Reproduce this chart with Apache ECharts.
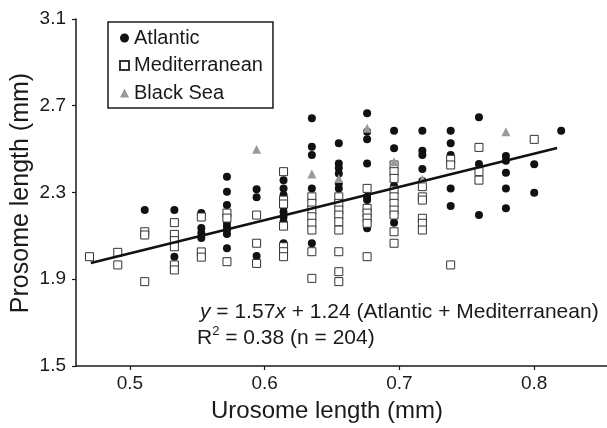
<!DOCTYPE html>
<html><head><meta charset="utf-8">
<script src="https://cdn.jsdelivr.net/npm/echarts@6/dist/echarts.min.js"></script>
<style>html,body{margin:0;padding:0;background:#fff}#c{width:607px;height:428px}</style>
</head><body><div id="c"></div>
<script>
const xTicks = [0.5, 0.6, 0.7, 0.8];
const yTicks = [1.5, 1.9, 2.3, 2.7, 3.1];

const atlantic = [
  [0.511,2.219],
  [0.533,2.219],[0.533,2.004],
  [0.553,2.205],[0.553,2.136],[0.553,2.113],[0.553,2.090],
  [0.572,2.373],[0.572,2.304],[0.572,2.242],[0.572,2.164],[0.572,2.145],[0.572,2.127],[0.572,2.109],[0.572,2.043],
  [0.594,2.315],[0.594,2.278],[0.594,2.007],
  [0.614,2.357],[0.614,2.319],[0.614,2.288],[0.614,2.234],[0.614,2.210],[0.614,2.187],[0.614,2.164],[0.614,2.066],
  [0.635,2.642],[0.635,2.511],[0.635,2.473],[0.635,2.319],[0.635,2.066],
  [0.655,2.527],[0.655,2.434],[0.655,2.413],[0.655,2.388],[0.655,2.342],[0.655,2.319],
  [0.676,2.665],[0.676,2.580],[0.676,2.545],[0.676,2.434],[0.676,2.280],[0.676,2.265],[0.676,2.135],
  [0.696,2.585],[0.696,2.504],[0.696,2.330],[0.696,2.161],
  [0.717,2.585],[0.717,2.493],[0.717,2.473],[0.717,2.408],[0.717,2.353],
  [0.738,2.585],[0.738,2.527],[0.738,2.473],[0.738,2.319],[0.738,2.238],
  [0.759,2.647],[0.759,2.431],[0.759,2.196],
  [0.779,2.468],[0.779,2.446],[0.779,2.391],[0.779,2.319],[0.779,2.227],
  [0.800,2.430],[0.800,2.299],
  [0.820,2.585]
];

const mediterranean = [
  [0.470,2.004],
  [0.491,2.024],[0.491,1.966],
  [0.511,2.119],[0.511,2.104],[0.511,1.889],
  [0.533,2.161],[0.533,2.107],[0.533,2.078],[0.533,2.050],[0.533,1.966],[0.533,1.943],
  [0.553,2.187],[0.553,2.026],[0.553,2.002],
  [0.572,2.205],[0.572,2.182],[0.572,1.981],
  [0.594,2.196],[0.594,2.066],[0.594,1.973],
  [0.614,2.396],[0.614,2.265],[0.614,2.247],[0.614,2.145],[0.614,2.050],[0.614,2.027],[0.614,2.004],
  [0.635,2.280],[0.635,2.250],[0.635,2.219],[0.635,2.188],[0.635,2.158],[0.635,2.127],[0.635,2.027],[0.635,1.904],
  [0.655,2.280],[0.655,2.250],[0.655,2.219],[0.655,2.196],[0.655,2.165],[0.655,2.127],[0.655,2.027],[0.655,1.935],[0.655,1.889],
  [0.676,2.319],[0.676,2.227],[0.676,2.205],[0.676,2.182],[0.676,2.158],[0.676,2.004],
  [0.696,2.427],[0.696,2.396],[0.696,2.365],[0.696,2.311],[0.696,2.280],[0.696,2.250],[0.696,2.219],[0.696,2.196],[0.696,2.119],[0.696,2.066],
  [0.717,2.327],[0.717,2.280],[0.717,2.265],[0.717,2.181],[0.717,2.158],[0.717,2.127],
  [0.738,2.453],[0.738,2.427],[0.738,1.966],
  [0.759,2.508],[0.759,2.396],[0.759,2.357],
  [0.800,2.545]
];

const blackSea = [
  [0.594,2.499],[0.635,2.385],[0.655,2.365],[0.676,2.596],[0.696,2.442],[0.717,2.361],[0.779,2.580]
];

const fitX = [0.471, 0.817];
const fitY = [1.975, 2.505];

const FONT = '"Liberation Sans", Arial, Helvetica, sans-serif';
const INK = '#1a1a1a';

const chart = echarts.init(document.getElementById('c'), null, {renderer: 'canvas'});
const axisCommon = {
  axisLine: {show: true, lineStyle: {color: INK, width: 1.5}},
  axisTick: {show: true, length: 4, lineStyle: {color: INK, width: 1.2}},
  axisLabel: {color: INK, fontSize: 19, fontFamily: FONT},
  splitLine: {show: false}
};
chart.setOption({
  animation: false,
  backgroundColor: '#fff',
  grid: {left: 76, right: 0, top: 19, bottom: 62, containLabel: false, outerBoundsMode: 'none'},
  xAxis: Object.assign({}, axisCommon, {
    type: 'value', min: 0.46, max: 0.854,
    axisTick: Object.assign({}, axisCommon.axisTick, {customValues: xTicks}),
    axisLabel: Object.assign({}, axisCommon.axisLabel, {customValues: xTicks, margin: 8,
      formatter: v => v.toFixed(1)})
  }),
  yAxis: Object.assign({}, axisCommon, {
    type: 'value', min: yTicks[0], max: yTicks[yTicks.length - 1], interval: 0.4,
    axisLabel: Object.assign({}, axisCommon.axisLabel, {margin: 10, formatter: v => v.toFixed(1)})
  }),
  legend: {
    orient: 'vertical', left: 108, top: 22,
    data: ['Atlantic', 'Mediterranean', 'Black Sea'],
    borderColor: INK, borderWidth: 1.5, borderRadius: 0,
    padding: [6, 10, 5, 11], itemGap: 7.5, itemWidth: 9, itemHeight: 9,
    textStyle: {fontSize: 20, fontFamily: FONT, color: INK, lineHeight: 20},
    backgroundColor: '#fff'
  },
  series: [
    {name: 'Atlantic', type: 'scatter', data: atlantic, symbol: 'circle', symbolSize: 8,
      itemStyle: {color: '#111', opacity: 1}},
    {name: 'Mediterranean', type: 'scatter', data: mediterranean, symbol: 'rect', symbolSize: 8,
      itemStyle: {color: '#fff', borderColor: '#333', borderWidth: 1, opacity: 1}},
    {name: 'Black Sea', type: 'scatter', data: blackSea, symbol: 'triangle', symbolSize: 9,
      itemStyle: {color: '#9a9a9a', opacity: 1}},
    {name: 'fit', type: 'line', data: fitX.map((x, i) => [x, fitY[i]]), symbol: 'none', z: 10,
      lineStyle: {color: '#111', width: 2.6}, silent: true}
  ],
  graphic: [
    {type: 'text', x: 327, y: 411, style: {text: 'Urosome length (mm)', font: '24px ' + FONT,
      fill: INK, align: 'center', verticalAlign: 'middle'}},
    {type: 'text', x: 21, y: 193, rotation: Math.PI / 2, style: {text: 'Prosome length (mm)', font: '25px ' + FONT,
      fill: INK, align: 'center', verticalAlign: 'middle'}},
    {type: 'text', x: 200, y: 312, z: 20, style: {
      text: '{i|y} = 1.57{i|x} + 1.24 (Atlantic + Mediterranean)',
      font: '21px ' + FONT, fill: INK, verticalAlign: 'middle',
      rich: {i: {fontStyle: 'italic', fontSize: 21, fontFamily: FONT, fill: INK}}}},
    {type: 'text', x: 197, y: 337, z: 20, style: {
      text: '{n|R}{s|2}{n| = 0.38 (n = 204)}',
      font: '21px ' + FONT, fill: INK, verticalAlign: 'middle',
      rich: {n: {fontSize: 21, fontFamily: FONT, lineHeight: 24, verticalAlign: 'bottom'},
             s: {fontSize: 13, fontFamily: FONT, lineHeight: 24, verticalAlign: 'top'}}}}
  ]
});
</script>
</body></html>
